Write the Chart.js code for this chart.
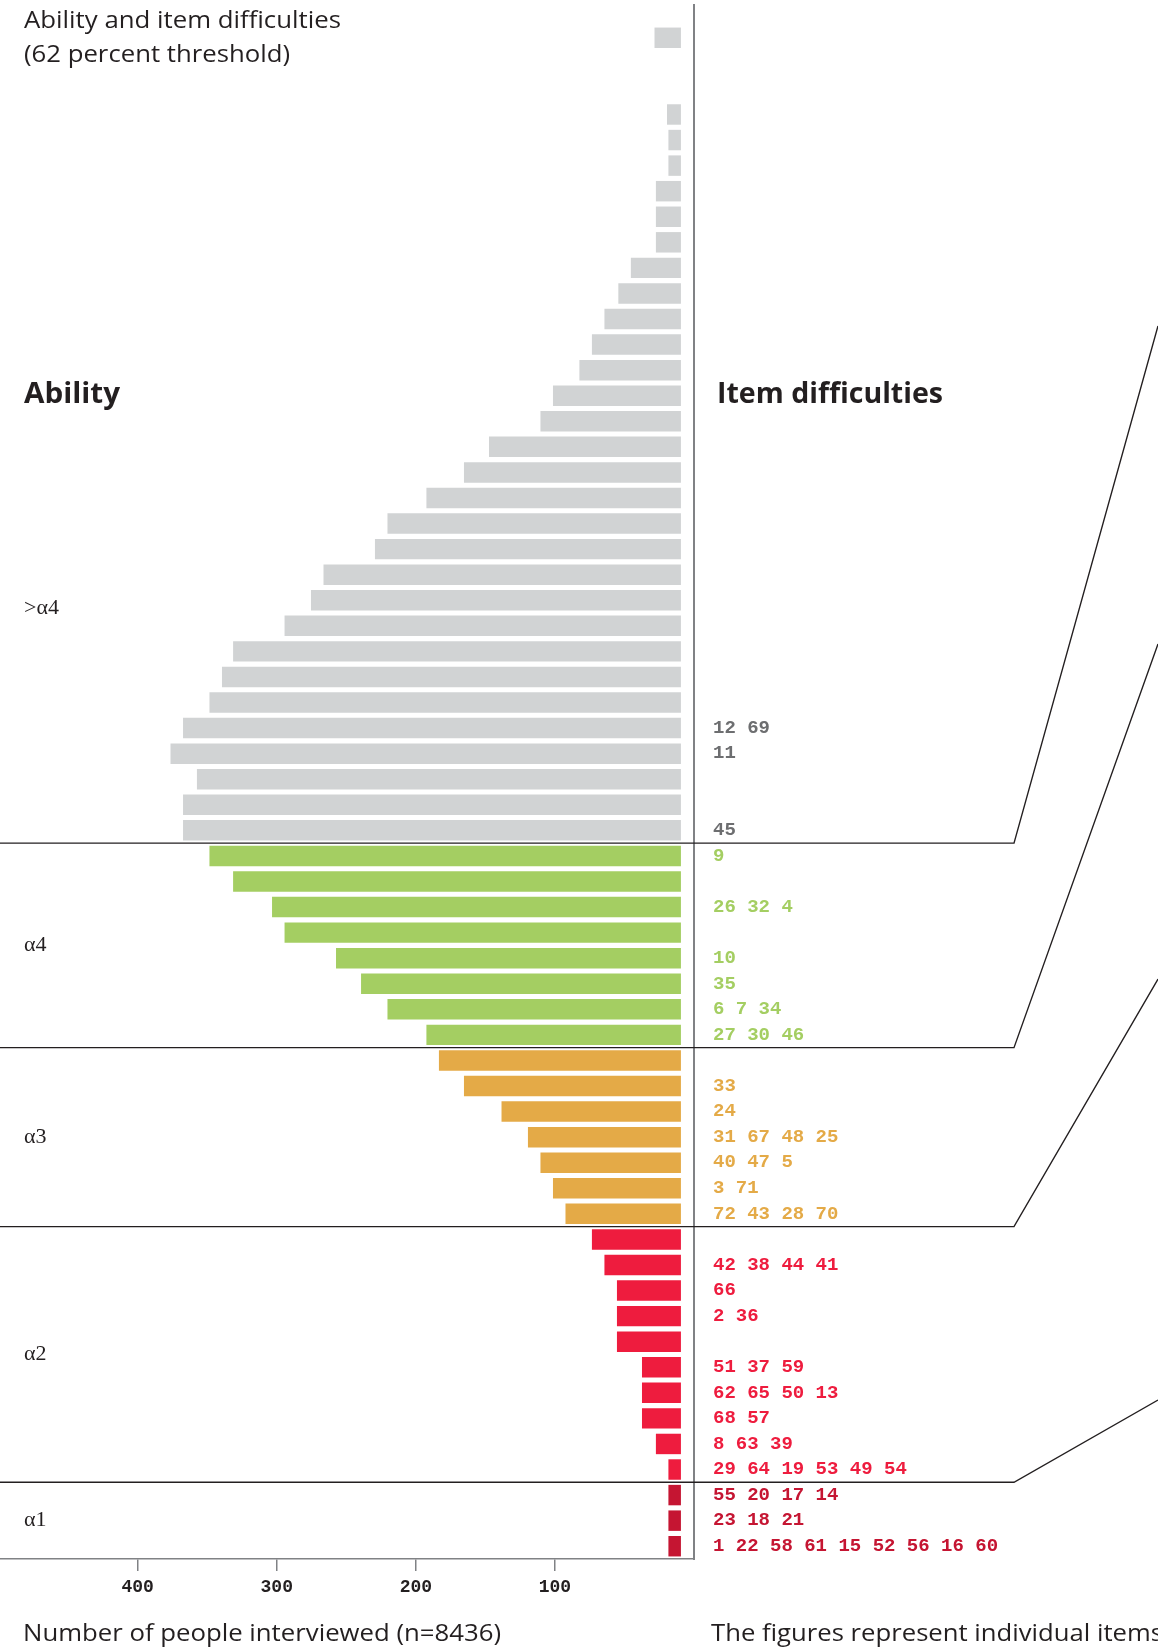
<!DOCTYPE html>
<html>
<head>
<meta charset="utf-8">
<script src="https://cdn.jsdelivr.net/npm/chart.js@4/dist/chart.umd.min.js"></script>
<style>
  html, body { margin: 0; padding: 0; background: #fff; }
</style>
</head>
<body>
<canvas id="abilityChart" width="1158" height="1650"></canvas>
<script>
// people per ability row, top row first (0 = empty row)
const abilityCounts = [
  19, 0, 0, 10, 9, 9, 18, 18, 18, 36, 45, 55, 64, 73, 92, 101,
  138, 156, 183, 211, 220, 257, 266, 285, 322, 330, 339, 358, 367, 348, 358, 358,
  339, 322, 294, 285, 248, 230, 211, 183,
  174, 156, 129, 110, 101, 92, 83,
  64, 55, 46, 46, 46, 28, 28, 28, 18, 9,
  9, 9, 9
];

// item numbers printed next to each row
const itemLabels = [
  '', '', '', '', '', '', '', '', '', '', '', '', '', '', '', '',
  '', '', '', '', '', '', '', '', '', '', '', '12 69', '11', '', '', '45',
  '9', '', '26 32 4', '', '10', '35', '6 7 34', '27 30 46',
  '', '33', '24', '31 67 48 25', '40 47 5', '3 71', '72 43 28 70',
  '', '42 38 44 41', '66', '2 36', '', '51 37 59', '62 65 50 13', '68 57', '8 63 39', '29 64 19 53 49 54',
  '55 20 17 14', '23 18 21', '1 22 58 61 15 52 56 16 60'
];

const groupNames = ['>α4', 'α4', 'α3', 'α2', 'α1'];
const groupSizes = [32, 8, 7, 10, 3];
const xTicks = [100, 200, 300, 400];

const barColors = ['#d1d3d4', '#a4ce62', '#e4aa47', '#ee1c3e', '#c51532'];
const textColors = ['#6d6e70', '#a4ce62', '#e4aa47', '#ee1c3e', '#c51532'];

const BAR_GAP = 9.4;   // bars stop short of the axis line
const SLANT_X = 1014;  // where the separators turn upwards
const slantEnds = [326, 644, 979, 1400];

const rowGroup = [];
groupSizes.forEach((n, g) => { for (let i = 0; i < n; i++) rowGroup.push(g); });

function fitText(ctx, text, x, y, width, font) {
  ctx.save();
  ctx.font = font;
  const w = ctx.measureText(text).width;
  ctx.translate(x, y);
  ctx.scale(width / w, 1);
  ctx.fillText(text, 0, 0);
  ctx.restore();
}

const decorations = {
  id: 'decorations',
  afterDraw(chart) {
    const { ctx, chartArea, scales } = chart;
    const y = scales.y;
    ctx.save();

    // axis line runs up to the top of the page
    ctx.strokeStyle = '#808285';
    ctx.lineWidth = 2;
    ctx.beginPath();
    ctx.moveTo(chartArea.right, 4);
    ctx.lineTo(chartArea.right, chartArea.top);
    ctx.stroke();

    // group separators
    ctx.strokeStyle = '#231f20';
    ctx.lineWidth = 1.4;
    let start = 0;
    groupSizes.slice(0, -1).forEach((n, g) => {
      const b = start + n;
      const py = (y.getPixelForValue(b - 1) + y.getPixelForValue(b)) / 2;
      ctx.beginPath();
      ctx.moveTo(0, py);
      ctx.lineTo(SLANT_X, py);
      ctx.lineTo(1158, slantEnds[g]);
      ctx.stroke();
      start = b;
    });

    // group names on the left
    ctx.fillStyle = '#231f20';
    ctx.textBaseline = 'middle';
    ctx.font = '22px "Liberation Serif"';
    start = 0;
    groupSizes.forEach((n, g) => {
      const row = g === 0 ? 22.3 : start + (n - 1) / 2;
      ctx.fillText(groupNames[g], 24, y.getPixelForValue(row));
      start += n;
    });

    // headings and notes
    fitText(ctx, 'Ability and item difficulties', 24, 21, 317, '23px "Open Sans"');
    fitText(ctx, '(62 percent threshold)', 24, 55, 266, '23px "Open Sans"');
    fitText(ctx, 'Ability', 24, 395, 96, 'bold 28px "Open Sans"');
    fitText(ctx, 'Item difficulties', 717, 395, 226, 'bold 28px "Open Sans"');
    fitText(ctx, 'Number of people interviewed (n=8436)', 23, 1634, 478, '23px "Open Sans"');
    fitText(ctx, 'The figures represent individual items', 711, 1634, 452, '23px "Open Sans"');

    ctx.restore();
  }
};

function drawAbilityChart() {
  const ctx = document.getElementById('abilityChart').getContext('2d');
  new Chart(ctx, {
    type: 'bar',
    data: {
      labels: itemLabels,
      datasets: [{
        data: abilityCounts.map(v => v > 0 ? [BAR_GAP, BAR_GAP + v] : null),
        backgroundColor: rowGroup.map(g => barColors[g]),
        borderWidth: 0,
        barPercentage: 0.8,
        categoryPercentage: 1.0
      }]
    },
    options: {
      indexAxis: 'y',
      responsive: false,
      animation: false,
      layout: { padding: { top: 25, left: 0, right: 0, bottom: 0 } },
      plugins: { legend: { display: false }, tooltip: { enabled: false } },
      scales: {
        x: {
          reverse: true,
          min: 0,
          max: 499,
          afterBuildTicks: scale => { scale.ticks = xTicks.map(v => ({ value: v })); },
          afterFit: scale => { scale.height = 91; },
          grid: { drawOnChartArea: false, drawTicks: true, tickLength: 12, color: '#808285', lineWidth: 1.5 },
          border: { color: '#808285', width: 1.5 },
          ticks: {
            padding: 6,
            color: '#231f20',
            font: { family: '"Liberation Mono"', weight: 'bold', size: 18 }
          }
        },
        y: {
          position: 'right',
          afterFit: scale => {
            scale.width = 464;
            scale.paddingTop = 0;
            scale.paddingBottom = 0;
          },
          grid: { display: false, drawTicks: false },
          border: { color: '#808285', width: 2 },
          ticks: {
            autoSkip: false,
            crossAlign: 'near',
            padding: 19,
            color: c => textColors[rowGroup[c.index]],
            font: { family: '"Liberation Mono"', weight: 'bold', size: 19 }
          }
        }
      }
    },
    plugins: [decorations]
  });
}

drawAbilityChart();
</script>
</body>
</html>
